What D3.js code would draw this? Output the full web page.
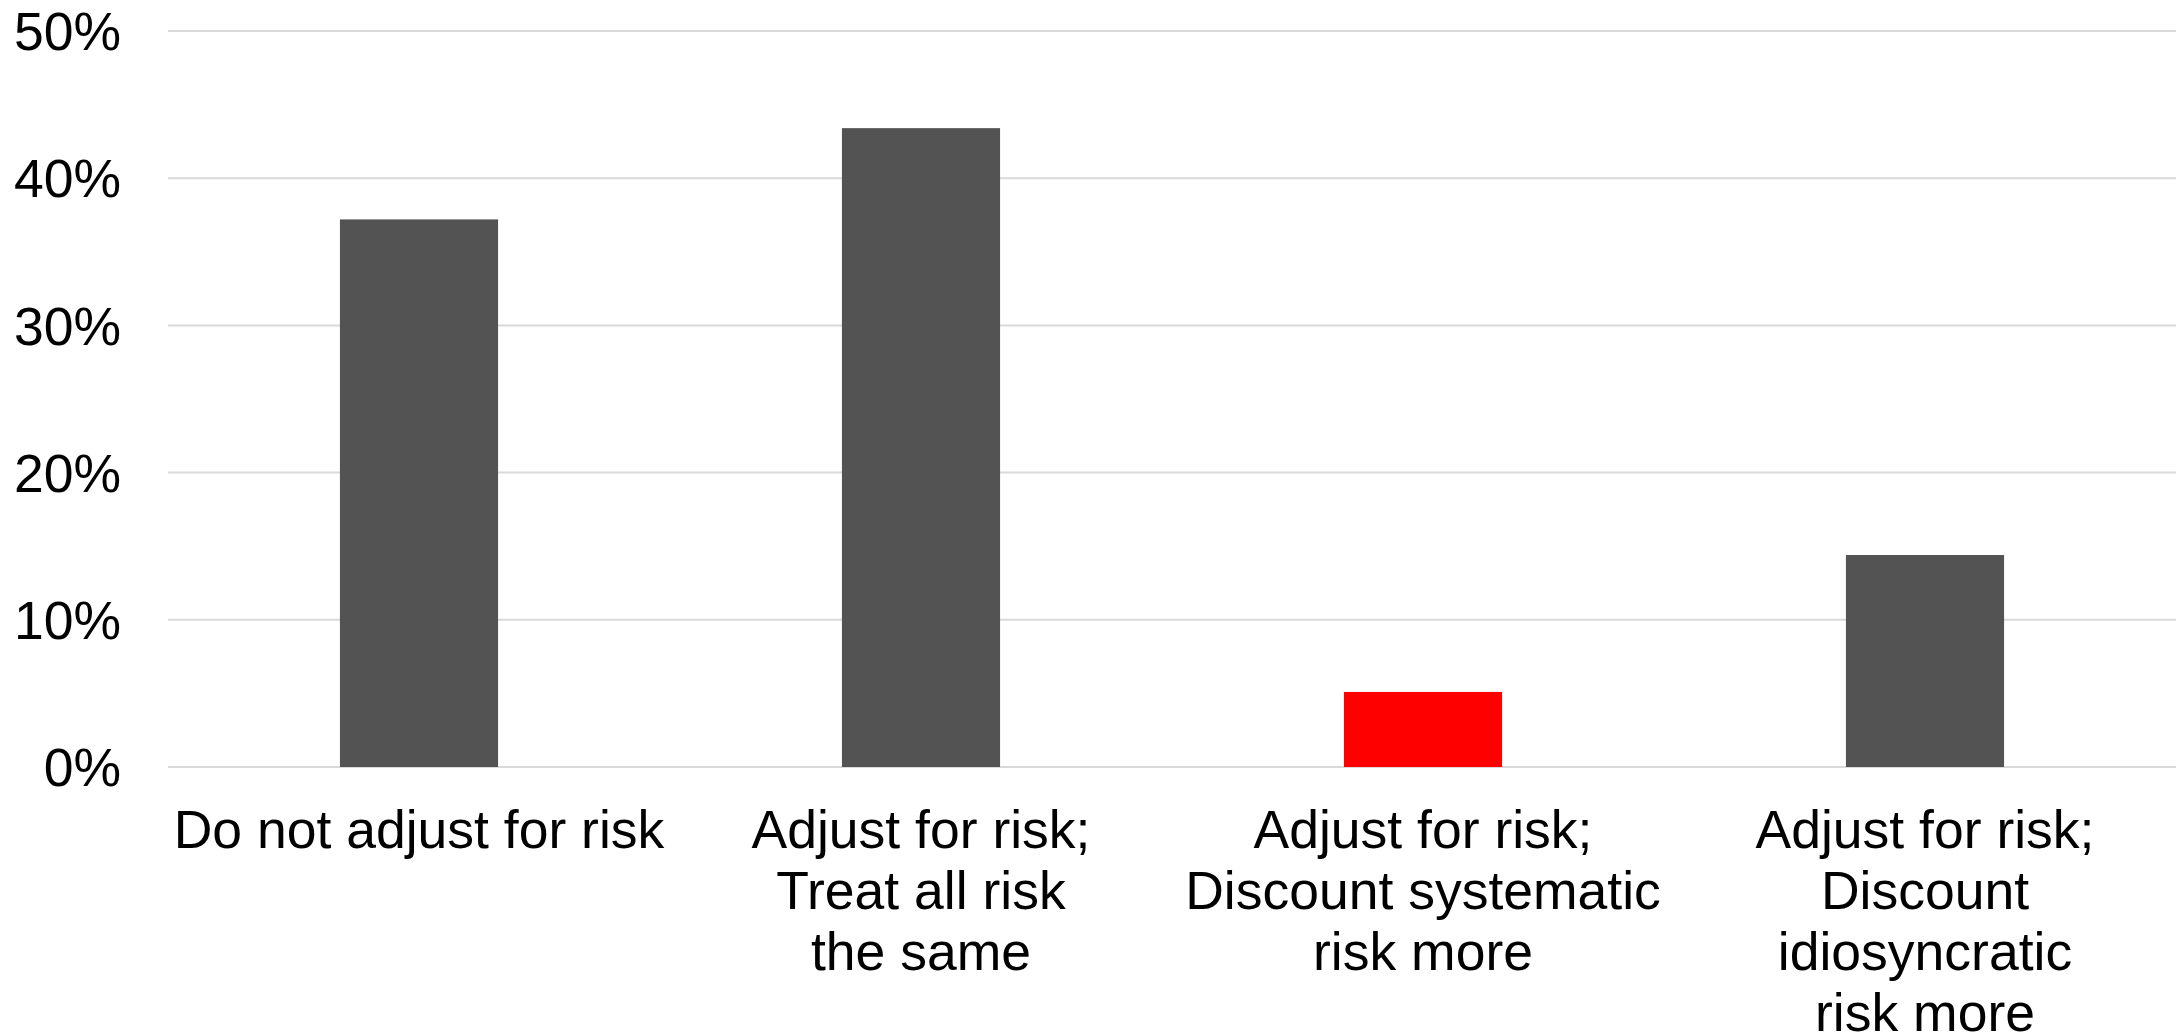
<!DOCTYPE html>
<html>
<head>
<meta charset="utf-8">
<script src="https://cdn.jsdelivr.net/npm/d3@7"></script>
<style>
  html, body { margin: 0; padding: 0; background: #ffffff; }
  svg { display: block; }
  text { font-family: "Liberation Sans", Arial, sans-serif; fill: #000000; }
</style>
</head>
<body>
<svg id="chart" width="2178" height="1036"></svg>
<script>
// Category labels (one entry per line of each wrapped label)
const categories = [
  ["Do not adjust for risk"],
  ["Adjust for risk;", "Treat all risk", "the same"],
  ["Adjust for risk;", "Discount systematic", "risk more"],
  ["Adjust for risk;", "Discount", "idiosyncratic", "risk more"]
];
// Share of respondents, in percent
const shares = [37.2, 43.4, 5.1, 14.4];
// Highlighted category index
const highlight = [false, false, true, false];
// Y-axis ticks, in percent
const yTicks = [0, 10, 20, 30, 40, 50];

const svg = d3.select("#chart");
const margin = { left: 168, right: 2, top: 31, bottom: 269 };
const width = 2178, height = 1036;
const plotRight = width - margin.right;
const plotBottom = height - margin.bottom;
const fontSize = 53.5;

const keys = categories.map((c, i) => i);

const x = d3.scaleBand()
  .domain(keys)
  .range([margin.left, plotRight])
  .paddingInner(0.685)
  .paddingOuter(0.3425);

const y = d3.scaleLinear()
  .domain([0, 50])
  .range([plotBottom, margin.top]);

// Horizontal gridlines (the 0% line doubles as the baseline)
svg.append("g")
  .selectAll("line")
  .data(yTicks)
  .join("line")
  .attr("x1", margin.left)
  .attr("x2", plotRight)
  .attr("y1", d => y(d))
  .attr("y2", d => y(d))
  .attr("stroke", "#d9d9d9")
  .attr("stroke-width", 2);

// Bars
svg.append("g")
  .selectAll("rect")
  .data(shares)
  .join("rect")
  .attr("x", (d, i) => x(i))
  .attr("width", x.bandwidth())
  .attr("y", d => y(d))
  .attr("height", d => y(0) - y(d))
  .attr("fill", (d, i) => highlight[i] ? "#ff0000" : "#535353");

// Y-axis tick labels
const yAxis = d3.axisLeft(y)
  .tickValues(yTicks)
  .tickFormat(d => d + "%")
  .tickSize(0)
  .tickPadding(0);

const yG = svg.append("g")
  .attr("transform", "translate(121,0)")
  .call(yAxis);
yG.select(".domain").remove();
yG.selectAll("text")
  .attr("font-family", "\"Liberation Sans\", Arial, sans-serif")
  .attr("font-size", fontSize)
  .attr("fill", "#000")
  .attr("dy", "0.35em");

// Category labels under the bars
const lineHeight = 61;
const firstBaseline = 848;
const labels = svg.append("g")
  .selectAll("text")
  .data(categories)
  .join("text")
  .attr("text-anchor", "middle")
  .attr("font-size", fontSize)
  .attr("x", (d, i) => x(i) + x.bandwidth() / 2)
  .attr("y", firstBaseline);

labels.selectAll("tspan")
  .data((d, i) => d.map(line => ({ line, i })))
  .join("tspan")
  .attr("x", d => x(d.i) + x.bandwidth() / 2)
  .attr("dy", (d, j) => j === 0 ? 0 : lineHeight)
  .text(d => d.line);
</script>
</body>
</html>
